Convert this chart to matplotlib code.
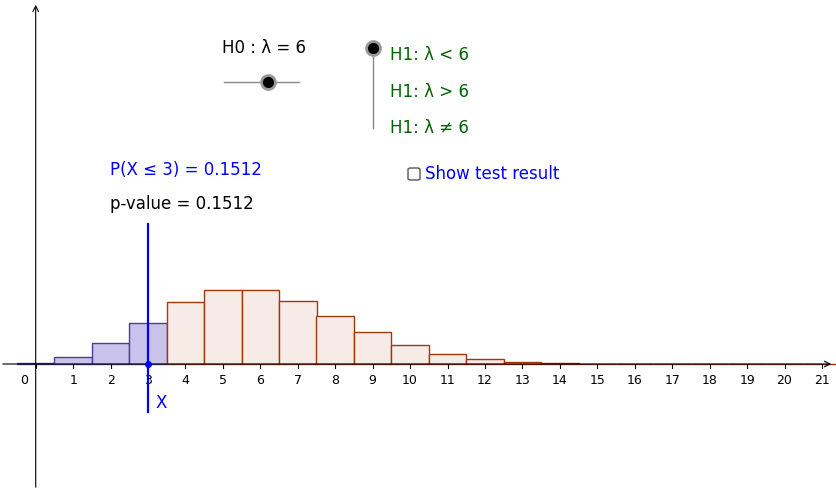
import matplotlib
matplotlib.use("Agg")
import matplotlib.pyplot as plt
from matplotlib.patches import Rectangle, FancyBboxPatch

k = list(range(22))
pmf = [0.0025,0.0149,0.0446,0.0892,0.1339,0.1606,0.1606,0.1377,0.1033,0.0688,
       0.0413,0.0225,0.0113,0.0052,0.0022,0.0009,0.0003,0.0001,0.0,0.0,0.0,0.0]
x_obs = 3
p_text = "P(X ≤ 3) = 0.1512"
pv_text = "p-value = 0.1512"

W, H = 836, 492
fig = plt.figure(figsize=(W/100, H/100), dpi=100)
ax = fig.add_axes([0, 0, 1, 1])
x0px, sx = 35.7, 37.44
y0px, sy = 364, 461
ax.set_xlim(-x0px/sx, (W-x0px)/sx)
ax.set_ylim(-(H-y0px)/sy, y0px/sy)
ax.axis("off")

for xi, p in zip(k, pmf):
    if xi <= x_obs:
        fc, ec = "#c9c2ea", "#4a3f9a"
    else:
        fc, ec = "#f6ebe6", "#a0380c"
    ax.add_patch(Rectangle((xi-0.5, 0), 1, p, facecolor=fc, edgecolor=ec, lw=1, zorder=2))

# axes
ax.annotate("", xy=((W-2-x0px)/sx, 0), xytext=(-x0px/sx, 0),
            arrowprops=dict(arrowstyle="->", color="black", lw=0.8), zorder=3)
ax.annotate("", xy=(0, (y0px-2)/sy), xytext=(0, -(H-y0px-2)/sy),
            arrowprops=dict(arrowstyle="->", color="black", lw=0.8), zorder=3)
for xi in k:
    ax.plot([xi, xi], [0, -4/sy], color="black", lw=0.8, zorder=3)
    ax.text(xi - (0.3 if xi == 0 else 0), -10/sy, str(xi), ha="center", va="top", fontsize=9)

# observed line
ax.plot([x_obs, x_obs], [(y0px-224)/sy, (y0px-412)/sy], color="#0000ff", lw=1.6, zorder=4)
ax.plot([x_obs], [0], "o", color="#0000ff", ms=4, zorder=5)
ax.text(x_obs + 0.2, -(403-y0px)/sy, "X", color="#0000ff", fontsize=12, va="center")

def px(x, y, s, **kw):
    fig.text(x/W, 1-y/H, s, **kw)

px(110, 170, p_text, color="#0000ff", fontsize=12, va="center")
px(110, 204, pv_text, color="black", fontsize=12, va="center")
px(222, 48, "H0 : λ = 6", color="black", fontsize=12, va="center")
# horizontal slider
fig.add_artist(plt.Line2D([224/W, 299/W], [1-82/H, 1-82/H], color="#888888", lw=1))
fig.add_artist(plt.Line2D([268/W], [1-82/H], marker="o", ms=11, color="#999999"))
fig.add_artist(plt.Line2D([268/W], [1-82/H], marker="o", ms=7, color="black"))
# vertical slider
fig.add_artist(plt.Line2D([373/W, 373/W], [1-48/H, 1-128/H], color="#888888", lw=1))
fig.add_artist(plt.Line2D([373/W], [1-48/H], marker="o", ms=11, color="#999999"))
fig.add_artist(plt.Line2D([373/W], [1-48/H], marker="o", ms=7, color="black"))
for y, s in [(55, "H1: λ < 6"), (92, "H1: λ > 6"), (128, "H1: λ ≠ 6")]:
    px(390, y, s, color="#006400", fontsize=12, va="center")
fig.add_artist(FancyBboxPatch((408/W, 1-180/H), 12/W, 12/H, boxstyle="round,pad=0,rounding_size=0.003",
                              transform=fig.transFigure, facecolor="white", edgecolor="#555555", lw=1))
px(425, 174, "Show test result", color="#0000ff", fontsize=12, va="center")

fig.savefig("out.png", dpi=100)
